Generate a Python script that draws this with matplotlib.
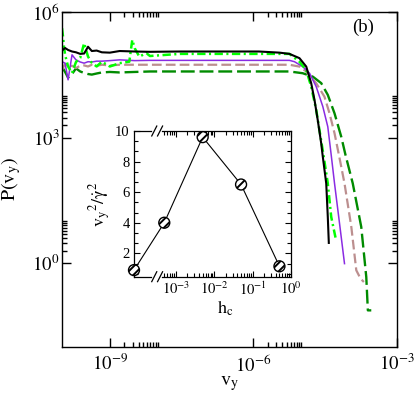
import numpy as np
import matplotlib
matplotlib.use('Agg')
import matplotlib.pyplot as plt
from matplotlib.ticker import FixedLocator, FixedFormatter, NullFormatter, MultipleLocator

plt.rcParams['font.family'] = ['Liberation Serif', 'DejaVu Serif']
plt.rcParams['mathtext.fontset'] = 'stix'
plt.rcParams['lines.scale_dashes'] = False
plt.rcParams['hatch.linewidth'] = 1.4

# ---------------- main panel data ----------------
v_black = [1.0e-10, 1.16e-10, 1.34e-10, 1.62e-10, 1.96e-10, 2.4e-10, 2.9e-10, 3.5e-10, 4.2e-10,
           5.3e-10, 6.8e-10, 1.0e-9, 1.6e-9, 3.3e-9, 6.9e-9, 2.9e-8, 2.0e-7, 1.3e-6, 3.5e-6,
           5.66e-6, 9.16e-6, 1.27e-5, 1.61e-5, 1.89e-5, 2.21e-5, 2.61e-5, 2.79e-5, 3.32e-5,
           3.58e-5, 3.76e-5]
P_black = [1.2e5, 1.38e5, 1.24e5, 1.14e5, 1.09e5, 1.0e5, 1.02e5, 1.48e5, 1.17e5,
           1.2e5, 1.09e5, 1.07e5, 1.17e5, 1.14e5, 1.12e5, 1.14e5, 1.14e5, 1.14e5, 1.07e5,
           1.0e5, 7.9e4, 4.97e4, 2.0e4, 7.9e3, 2.6e3, 724, 380, 80.7,
           12.8, 3.06]

v_purple = [1.0e-10, 1.16e-10, 1.34e-10, 1.62e-10, 1.96e-10, 2.4e-10, 2.9e-10, 3.5e-10, 4.2e-10,
            5.3e-10, 6.8e-10, 1.0e-9, 1.6e-9, 3.3e-9, 6.9e-9, 2.9e-8, 2.0e-7, 1.3e-6, 3.5e-6,
            5.66e-6, 7.2e-6, 1.07e-5, 1.49e-5, 2.05e-5, 2.82e-5, 3.58e-5, 4.22e-5, 4.95e-5,
            6.3e-5, 8.0e-5]
P_purple = [6.5e4, 6.0e4, 2.4e4, 9.5e4, 7.2e4, 6.4e4, 6.0e4, 6.5e4, 6.4e4,
            6.7e4, 6.7e4, 6.9e4, 7.2e4, 6.9e4, 7.0e4, 7.0e4, 7.0e4, 7.0e4, 7.0e4,
            7.0e4, 6.5e4, 4.97e4, 3.45e4, 1.65e4, 5.5e3, 1.82e3, 384, 80.7,
            8.9, 0.98]

v_lime = [1.0e-10, 1.05e-10, 1.1e-10, 1.16e-10, 1.34e-10, 1.62e-10, 1.96e-10, 2.4e-10, 2.9e-10,
          3.5e-10, 4.2e-10, 5.3e-10, 6.8e-10, 1.0e-9, 1.6e-9, 2.55e-9, 2.94e-9, 3.3e-9, 4.12e-9,
          5.78e-9, 6.9e-9, 2.9e-8, 2.0e-7, 1.3e-6, 3.5e-6, 5.66e-6, 9.16e-6, 1.27e-5, 1.61e-5,
          2.05e-5, 2.4e-5, 2.91e-5, 3.58e-5, 4.22e-5, 5.19e-5]
P_lime = [4.1e5, 2.6e5, 1.5e5, 9.5e4, 5.0e4, 3.5e4, 6.4e4, 8.0e4, 1.8e5,
          8.6e4, 6.1e4, 5.0e4, 6.5e4, 5.0e4, 6.0e4, 6.5e4, 2.16e5, 1.37e5, 8.6e4,
          1.04e5, 8.9e4, 1.0e5, 1.0e5, 1.0e5, 1.0e5, 1.0e5, 6.5e4, 4.1e4, 1.65e4,
          4.6e3, 1.5e3, 384, 80.7, 12.8, 4.1]

v_rosy = [1.0e-10, 1.16e-10, 1.34e-10, 1.62e-10, 1.96e-10, 2.4e-10, 2.9e-10, 3.5e-10, 4.2e-10,
          5.3e-10, 6.8e-10, 1.0e-9, 1.6e-9, 3.3e-9, 6.9e-9, 2.9e-8, 2.0e-7, 1.3e-6, 3.5e-6,
          5.66e-6, 9.16e-6, 1.27e-5, 2.05e-5, 3.05e-5, 3.89e-5, 4.95e-5, 6.3e-5, 8.0e-5,
          1.11e-4, 1.41e-4, 1.73e-4, 2.03e-4]
P_rosy = [4.1e4, 5.8e4, 4.9e4, 5.2e4, 4.6e4, 5.2e4, 5.3e4, 5.0e4, 5.5e4,
          5.2e4, 5.5e4, 5.3e4, 5.5e4, 5.5e4, 5.5e4, 5.5e4, 5.5e4, 5.5e4, 5.5e4,
          5.5e4, 4.97e4, 3.8e4, 2.0e4, 9.5e3, 3.8e3, 1.27e3, 325, 80.7,
          7.4, 0.68, 0.43, 0.357]

v_dkgreen = [1.0e-10, 1.16e-10, 1.34e-10, 1.62e-10, 1.96e-10, 2.4e-10, 2.9e-10, 3.5e-10, 4.2e-10,
             5.3e-10, 6.8e-10, 1.0e-9, 1.6e-9, 3.3e-9, 6.9e-9, 2.9e-8, 2.0e-7, 1.3e-6, 3.5e-6,
             5.66e-6, 1.07e-5, 1.74e-5, 2.61e-5, 3.58e-5, 4.95e-5, 6.84e-5, 8.4e-5, 1.19e-4,
             1.79e-4, 2.28e-4, 2.46e-4, 2.9e-4]
P_dkgreen = [4.9e4, 3.7e4, 2.7e4, 3.3e4, 4.5e4, 3.8e4, 3.5e4, 3.3e4, 3.2e4,
             3.4e4, 3.6e4, 3.7e4, 3.6e4, 3.7e4, 3.8e4, 3.8e4, 3.8e4, 3.8e4, 3.8e4,
             3.8e4, 3.45e4, 2.86e4, 2.0e4, 1.05e4, 3.8e3, 1.05e3, 384, 80.7,
             7.4, 0.47, 0.075, 0.075]

x_major = [1e-9, 1e-6, 1e-3]
x_minor = [k * 1e-9 for k in range(2, 11)] + [k * 1e-6 for k in range(2, 11)]
x_labels = [r'$10^{-9}$', r'$10^{-6}$', r'$10^{-3}$']
y_major = [1e0, 1e3, 1e6]
y_minor = [k * 1e0 for k in range(2, 11)] + [k * 1e3 for k in range(2, 11)]
y_labels = [r'$10^{0}$', r'$10^{3}$', r'$10^{6}$']

# ---------------- inset data ----------------
hc = [0.0, 5e-4, 5e-3, 5e-2, 5e-1]
ratio = [0.9, 4.0, 9.6, 6.5, 1.15]
in_x_major = [1e-3, 1e-2, 1e-1, 1e0]
in_x_labels = [r'$10^{-3}$', r'$10^{-2}$', r'$10^{-1}$', r'$10^{0}$']
in_y_major = [2, 4, 6, 8, 10]

W, H = 415, 401
fig = plt.figure(figsize=(W / 100, H / 100), dpi=100)
ax = fig.add_axes([62 / W, 54 / H, 335 / W, 335 / H])

ax.plot(v_dkgreen, P_dkgreen, color='#008b00', lw=1.7, dashes=[10, 3.5])
ax.plot(v_rosy, P_rosy, color='#bc8f8f', lw=1.6, dashes=[7, 3])
ax.plot(v_purple, P_purple, color='#8a2be2', lw=1.1)
ax.plot(v_lime, P_lime, color='#00ff00', lw=1.8, dashes=[6, 2.5, 1.5, 2.5])
ax.plot(v_black, P_black, color='black', lw=1.5)

ax.set_xscale('log')
ax.set_yscale('log')
ax.set_xlim(1e-10, 1e-3)
ax.set_ylim(1e-2, 1e6)
ax.xaxis.set_major_locator(FixedLocator(x_major))
ax.xaxis.set_major_formatter(FixedFormatter(x_labels))
ax.xaxis.set_minor_locator(FixedLocator(x_minor))
ax.xaxis.set_minor_formatter(NullFormatter())
ax.yaxis.set_major_locator(FixedLocator(y_major))
ax.yaxis.set_major_formatter(FixedFormatter(y_labels))
ax.yaxis.set_minor_locator(FixedLocator(y_minor))
ax.yaxis.set_minor_formatter(NullFormatter())
ax.tick_params(which='both', direction='in', top=True, right=True, width=1.0)
ax.tick_params(which='major', length=6.5, labelsize=13.5)
ax.tick_params(which='minor', length=3.5)
ax.tick_params(axis='x', pad=5)
ax.tick_params(axis='y', pad=2)
for s in ax.spines.values():
    s.set_linewidth(1.0)
ax.set_xlabel(r'$\mathrm{v_y}$', fontsize=14.5)
ax.set_ylabel(r'$\mathrm{P(v_y)}$', fontsize=14.5)
ax.xaxis.set_label_coords(0.5, -0.08)
ax.yaxis.set_label_coords(-0.115, 0.5)
ax.text(0.898, 0.955, '(b)', transform=ax.transAxes, fontsize=13.5, ha='center', va='center')

# ---------------- inset ----------------
ax2 = fig.add_axes([134 / W, (H - 276.7) / H, 157 / W, 145.7 / H])
x_lo = 10 ** -4.09
ax2.set_xscale('log')
ax2.set_xlim(x_lo, 1.0)
ax2.set_ylim(0.47, 10)
hc_pos = [h if h > 0 else x_lo for h in hc]
ax2.plot(hc_pos, ratio, color='black', lw=0.8, zorder=2, clip_on=False)
ax2.scatter(hc_pos, ratio, s=62, facecolor='white', edgecolor='black', linewidth=1.0,
            hatch='////', zorder=3, clip_on=False)

in_x_minor = [k * 10.0 ** n for n in range(-4, 0) for k in range(2, 10) if k * 10.0 ** n >= 5e-4]
ax2.xaxis.set_major_locator(FixedLocator(in_x_major))
ax2.xaxis.set_major_formatter(FixedFormatter(in_x_labels))
ax2.xaxis.set_minor_locator(FixedLocator(in_x_minor))
ax2.xaxis.set_minor_formatter(NullFormatter())
ax2.yaxis.set_major_locator(FixedLocator(in_y_major))
ax2.yaxis.set_minor_locator(MultipleLocator(2 / 3))
ax2.tick_params(which='both', direction='in', top=True, right=True, width=0.8)
ax2.tick_params(which='major', length=4.3, labelsize=10.5, pad=3)
ax2.tick_params(which='minor', length=2.6)
for s in ax2.spines.values():
    s.set_linewidth(0.9)
ax2.spines['bottom'].set_visible(False)
ax2.spines['top'].set_visible(False)
# broken x axis (bottom and top)
b0, b1 = 0.108, 0.176
for yy in (0.0, 1.0):
    ax2.plot([0, b0], [yy, yy], transform=ax2.transAxes, color='black', lw=0.9, clip_on=False)
    ax2.plot([b1, 1.0], [yy, yy], transform=ax2.transAxes, color='black', lw=0.9, clip_on=False)
    for xc in (0.129, 0.166):
        ax2.plot([xc - 0.016, xc + 0.016], [yy - 0.034, yy + 0.034], transform=ax2.transAxes,
                 color='black', lw=0.9, clip_on=False)

ax2.set_xlabel(r'$\mathrm{h_c}$', fontsize=13)
ax2.set_ylabel(r'$\mathrm{v_y{}^2/\dot{\gamma}{}^2}$', fontsize=13)
ax2.xaxis.set_label_coords(0.58, -0.15)
ax2.yaxis.set_label_coords(-0.135, 0.5)

fig.savefig('out.png', dpi=100)
